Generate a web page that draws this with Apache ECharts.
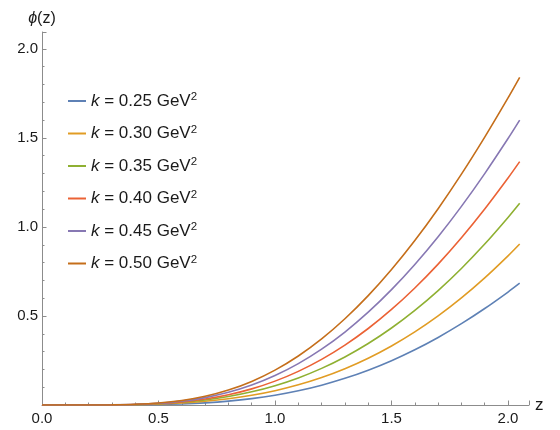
<!DOCTYPE html>
<html>
<head>
<meta charset="utf-8">
<script src="https://cdn.jsdelivr.net/npm/echarts@6/dist/echarts.min.js"></script>
<style>
  html, body { margin: 0; padding: 0; background: #fff; }
  #chart { width: 560px; height: 430px; }
</style>
</head>
<body>
<div id="chart"></div>
<script>
// z sample points
const zValues = [0, 0.1, 0.2, 0.3, 0.4, 0.5, 0.6, 0.7, 0.8, 0.9, 1.0, 1.1, 1.2, 1.3, 1.4, 1.5, 1.6, 1.7, 1.8, 1.9, 2.0, 2.05]

const kLabels = ['0.25', '0.30', '0.35', '0.40', '0.45', '0.50']

const phiK025 = [0, 0, 0, 0.0002, 0.0008, 0.0024, 0.0059, 0.0120, 0.0217, 0.0357, 0.0549, 0.0799, 0.1114, 0.1499, 0.1957, 0.2491, 0.3103, 0.3795, 0.4567, 0.5419, 0.6345, 0.684]
const phiK030 = [0, 0, 0, 0.0006, 0.0020, 0.0053, 0.0112, 0.0208, 0.0349, 0.0544, 0.0803, 0.1134, 0.1545, 0.2041, 0.2629, 0.3316, 0.4105, 0.5001, 0.6011, 0.7136, 0.8374, 0.904]
const phiK035 = [0, 0, 0, 0.0007, 0.0028, 0.0073, 0.0154, 0.0285, 0.0476, 0.0740, 0.1085, 0.1522, 0.2058, 0.2700, 0.3453, 0.4324, 0.5314, 0.6427, 0.7669, 0.9038, 1.0533, 1.133]
const phiK040 = [0, 0, 0, 0.0007, 0.0028, 0.0080, 0.0177, 0.0337, 0.0575, 0.0906, 0.1341, 0.1890, 0.2563, 0.3364, 0.4297, 0.5366, 0.6572, 0.7914, 0.9393, 1.1009, 1.2750, 1.367]
const phiK045 = [0, 0, 0, 0.0008, 0.0034, 0.0097, 0.0217, 0.0416, 0.0711, 0.1119, 0.1653, 0.2323, 0.3137, 0.4100, 0.5213, 0.6479, 0.7891, 0.9450, 1.1155, 1.2997, 1.4965, 1.600]
const phiK050 = [0, 0, 0, 0.0009, 0.0038, 0.0110, 0.0252, 0.0487, 0.0837, 0.1322, 0.1957, 0.2752, 0.3712, 0.4844, 0.6144, 0.7611, 0.9239, 1.1026, 1.2964, 1.5044, 1.7246, 1.840]

const seriesValues = [phiK025, phiK030, phiK035, phiK040, phiK045, phiK050]
const colors = ['#5E81B5', '#E19C24', '#8FB032', '#EB6235', '#8778B3', '#C56E1A']

const chart = echarts.init(document.getElementById('chart'), null, { renderer: 'canvas' })

const axisGray = '#8c8c8c'
const textColor = '#1a1a1a'
const font = 'Liberation Sans, Arial, sans-serif'

const option = {
  animation: false,
  textStyle: { fontFamily: font },
  grid: { left: 42, right: 31, top: 32, bottom: 25, containLabel: false },
  legend: {
    orient: 'vertical',
    left: 63,
    top: 86,
    itemWidth: 18,
    itemHeight: 2,
    itemGap: 12.5,
    icon: 'rect',
    data: kLabels.map((k, i) => ({
      name: 'k = ' + k + ' GeV2',
      itemStyle: { color: colors[i] },
    })),
    formatter: (name) => {
      const k = name.split(' ')[2]
      return '{i|k} = ' + k + ' GeV{s|2}'
    },
    textStyle: {
      fontFamily: font,
      fontSize: 17,
      color: textColor,
      lineHeight: 20,
      rich: {
        i: { fontStyle: 'italic', fontSize: 17, fontFamily: font, color: textColor },
        s: { fontSize: 11.5, fontFamily: font, color: textColor, verticalAlign: 'top', lineHeight: 12 },
      },
    },
  },
  xAxis: {
    type: 'value',
    min: 0,
    max: 2.09,
    interval: 0.5,
    name: 'z',
    nameLocation: 'end',
    nameGap: 6,
    nameTextStyle: { fontSize: 17, color: textColor, fontFamily: font, verticalAlign: 'middle' },
    axisLine: { show: true, onZero: false, lineStyle: { color: axisGray, width: 1 } },
    axisTick: { show: true, inside: true, length: 4.5, lineStyle: { color: axisGray } },
    minorTick: { show: true, splitNumber: 5, length: 2.5, lineStyle: { color: axisGray } },
    splitLine: { show: false },
    axisLabel: {
      fontSize: 15,
      color: textColor,
      margin: 6,
      showMaxLabel: false,
      formatter: (v) => v.toFixed(1),
    },
  },
  yAxis: {
    type: 'value',
    min: 0,
    max: 2.095,
    interval: 0.5,
    name: '{p|ϕ}(z)',
    nameLocation: 'end',
    nameGap: 5,
    nameTextStyle: {
      fontSize: 16,
      color: textColor,
      fontFamily: font,
      align: 'center',
      rich: { p: { fontStyle: 'italic', fontSize: 16, fontFamily: font, color: textColor } },
    },
    axisLine: { show: true, onZero: false, lineStyle: { color: axisGray, width: 1 } },
    axisTick: { show: true, inside: true, length: 4.5, lineStyle: { color: axisGray } },
    minorTick: { show: true, splitNumber: 5, length: 2.5, lineStyle: { color: axisGray } },
    splitLine: { show: false },
    axisLabel: {
      fontSize: 15,
      color: textColor,
      margin: 4,
      showMaxLabel: false,
      formatter: (v) => (v === 0 ? '' : v.toFixed(1)),
    },
  },
  series: seriesValues.map((vals, i) => ({
    name: 'k = ' + kLabels[i] + ' GeV2',
    type: 'line',
    data: zValues.map((z, j) => [z, vals[j]]),
    smooth: 0.3,
    symbol: 'none',
    lineStyle: { color: colors[i], width: 1.6 },
    itemStyle: { color: colors[i] },
  })),
}

chart.setOption(option)
</script>
</body>
</html>
